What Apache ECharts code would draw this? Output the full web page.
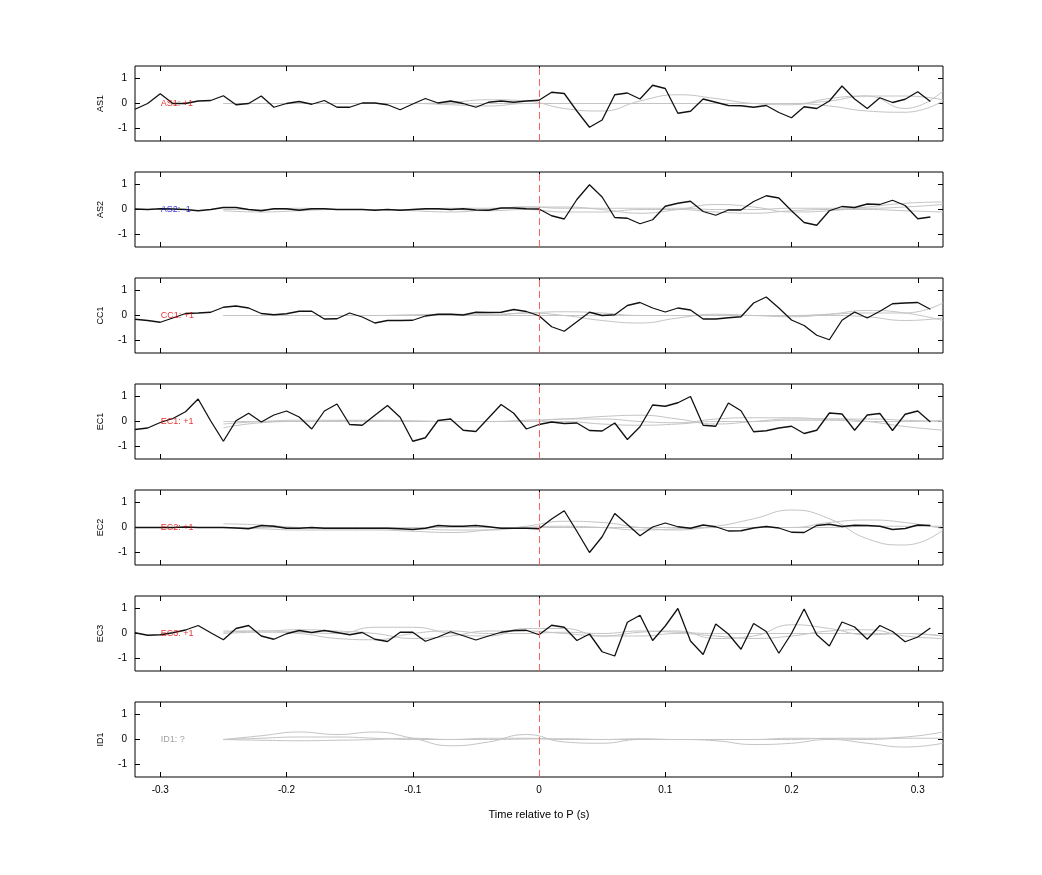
<!DOCTYPE html>
<html>
<head>
<meta charset="utf-8">
<script src="https://cdn.jsdelivr.net/npm/echarts@6/dist/echarts.min.js"></script>
<style>
  html, body { margin: 0; background: #fff; }
  #chart { width: 1042px; height: 875px; }
</style>
</head>
<body>
<div id="chart"></div>
<script>
// Station names, labels and label colours
const stations = ['AS1', 'AS2', 'CC1', 'EC1', 'EC2', 'EC3', 'ID1'];
const polarity = ['AS1: +1', 'AS2: -1', 'CC1: +1', 'EC1: +1', 'EC2: +1', 'EC3: +1', 'ID1: ?'];
const labelColors = ['#e00000', '#0000d0', '#e00000', '#e00000', '#e00000', '#e00000', '#888888'];
const xTicks = [-0.3, -0.2, -0.1, 0, 0.1, 0.2, 0.3];
const yTicks = [-1, 0, 1];

// Black traces, sampled every 0.01 s from -0.32 to 0.31
const as1 = [-0.23, 0.0, 0.39, 0.0, 0.0, 0.1, 0.12, 0.31, -0.05, 0.0, 0.3, -0.15, 0.0, 0.08, -0.03, 0.12,
  -0.15, -0.15, 0.02, 0.02, -0.05, -0.25, -0.02, 0.2, 0.02, 0.1, 0.0, -0.15, 0.05, 0.1, 0.05, 0.1,
  0.13, 0.45, 0.4, -0.3, -0.95, -0.66, 0.35, 0.42, 0.18, 0.73, 0.6, -0.39, -0.31, 0.18, 0.05, -0.08,
  -0.09, -0.15, -0.08, -0.36, -0.57, -0.13, -0.2, 0.1, 0.7, 0.18, -0.2, 0.23, 0.04, 0.17, 0.47, 0.08];
const as2 = [0.02, 0.0, 0.03, 0.02, 0.0, -0.05, 0.0, 0.08, 0.08, 0.0, -0.05, 0.03, 0.03, -0.03, 0.03, 0.03,
  0.0, 0.0, 0.0, -0.03, 0.0, -0.03, 0.0, 0.03, 0.03, 0.0, 0.03, -0.02, -0.03, 0.06, 0.06, 0.03,
  0.02, -0.25, -0.38, 0.4, 0.99, 0.5, -0.32, -0.35, -0.57, -0.41, 0.13, 0.25, 0.33, -0.08, -0.23, -0.02,
  -0.02, 0.32, 0.55, 0.46, -0.05, -0.52, -0.63, -0.05, 0.12, 0.08, 0.22, 0.2, 0.37, 0.16, -0.37, -0.3];
const cc1 = [-0.15, -0.2, -0.27, -0.1, 0.08, 0.1, 0.13, 0.33, 0.38, 0.3, 0.08, 0.03, 0.07, 0.17, 0.17, -0.14,
  -0.13, 0.1, -0.06, -0.3, -0.2, -0.2, -0.19, -0.02, 0.05, 0.05, 0.02, 0.13, 0.12, 0.13, 0.24, 0.16,
  -0.01, -0.45, -0.63, -0.25, 0.13, 0.0, 0.03, 0.4, 0.52, 0.3, 0.14, 0.3, 0.22, -0.14, -0.14, -0.09,
  -0.05, 0.5, 0.74, 0.3, -0.18, -0.4, -0.79, -0.97, -0.19, 0.14, -0.1, 0.17, 0.47, 0.5, 0.52, 0.25];
const ec1 = [-0.32, -0.26, -0.04, 0.12, 0.39, 0.9, 0.02, -0.79, 0.03, 0.33, -0.02, 0.26, 0.42, 0.18, -0.3, 0.42,
  0.7, -0.12, -0.15, 0.25, 0.64, 0.17, -0.79, -0.65, 0.04, 0.1, -0.35, -0.4, 0.14, 0.68, 0.33, -0.3,
  -0.12, -0.02, -0.08, -0.06, -0.36, -0.38, -0.06, -0.72, -0.21, 0.66, 0.61, 0.75, 1.0, -0.15, -0.19, 0.74,
  0.43, -0.41, -0.37, -0.26, -0.19, -0.48, -0.35, 0.34, 0.3, -0.35, 0.26, 0.32, -0.36, 0.29, 0.42, -0.02];
const ec2 = [0.0, 0.0, 0.0, 0.0, 0.02, 0.0, 0.0, 0.0, -0.02, -0.05, 0.08, 0.05, -0.03, -0.03, 0.0, -0.03,
  -0.03, -0.03, -0.03, -0.03, -0.03, -0.05, -0.08, -0.03, 0.08, 0.05, 0.05, 0.08, 0.03, -0.03, -0.03, -0.03,
  -0.05, 0.34, 0.67, -0.15, -1.0, -0.37, 0.56, 0.12, -0.33, 0.02, 0.18, 0.03, -0.03, 0.1, 0.03, -0.14,
  -0.13, -0.02, 0.04, -0.02, -0.19, -0.2, 0.08, 0.13, 0.04, 0.09, 0.08, 0.05, -0.08, -0.04, 0.1, 0.08];
const ec3 = [0.03, -0.07, -0.05, 0.03, 0.14, 0.32, 0.03, -0.25, 0.2, 0.32, -0.1, -0.23, -0.01, 0.12, 0.04, 0.12,
  0.04, -0.05, 0.04, -0.23, -0.32, 0.05, 0.05, -0.31, -0.14, 0.07, -0.09, -0.26, -0.1, 0.05, 0.12, 0.13,
  -0.05, 0.33, 0.25, -0.28, -0.02, -0.73, -0.9, 0.45, 0.73, -0.28, 0.3, 1.0, -0.3, -0.84, 0.38, -0.02,
  -0.63, 0.4, 0.08, -0.79, 0.0, 0.98, -0.05, -0.5, 0.46, 0.26, -0.23, 0.32, 0.08, -0.33, -0.14, 0.22];
const traces = [as1, as2, cc1, ec1, ec2, ec3, null];

// Grey model traces, sampled every 0.03 s from -0.25 to 0.32
const grayTimes = [-0.25, -0.22, -0.19, -0.16, -0.13, -0.1, -0.07, -0.04, -0.01, 0.02,
  0.05, 0.08, 0.11, 0.14, 0.17, 0.2, 0.23, 0.26, 0.29, 0.32];
const grayAS1 = [
  [0, 0, 0, 0, 0, 0, 0.05, 0.15, 0.1, -0.2, -0.3, 0.1, 0.35, 0.2, 0, -0.05, 0.2, 0.3, -0.2, 0.5],
  [0, 0, 0, 0, 0, 0, 0, 0, 0, 0, 0, 0, 0, 0, 0, 0, 0.1, 0.3, 0.3, 0.15],
  [0, 0, 0, 0, 0, 0, -0.05, -0.1, 0, 0, 0, 0, 0, 0, 0, 0, -0.1, -0.3, -0.35, 0.1]];
const grayAS2 = [
  [-0.05, -0.1, -0.05, 0, 0, -0.05, -0.1, 0, 0.1, 0.1, 0, -0.15, 0, 0.2, 0.1, -0.1, -0.05, 0.1, 0.25, 0.3],
  [0, 0, 0.05, 0, 0, 0, 0.05, 0.05, 0.1, 0.05, 0.05, 0.05, 0.05, 0, 0, 0.05, 0.05, 0.05, 0.1, 0.2],
  [0, 0, 0, 0, 0, 0, 0, -0.05, 0, -0.1, -0.1, 0, 0, -0.1, -0.15, -0.05, 0, 0, -0.05, -0.1]];
const grayCC1 = [
  [0, 0, 0, 0, 0, 0, 0, 0, 0.1, 0, -0.2, -0.3, -0.1, 0.05, 0, -0.05, 0.05, 0.2, 0.1, -0.2],
  [0, 0, 0, 0, 0, 0.03, 0.05, 0.05, 0.1, 0.15, 0.1, 0, 0, 0, 0, 0, 0.05, 0.1, 0.1, 0.5],
  [0, 0, 0, 0, 0, 0, 0, 0, 0, 0, 0, 0, 0, 0, 0, 0, 0, -0.05, -0.2, -0.1]];
const grayEC1 = [
  [-0.25, -0.05, 0, 0, 0, 0, 0, 0, 0.05, 0.1, 0.2, 0.25, 0.1, -0.1, 0, 0.1, 0.1, 0, -0.2, -0.35],
  [-0.1, 0, 0.05, 0.05, 0.03, 0, 0, 0, 0, 0.1, 0.1, 0, -0.05, 0.1, 0.15, 0.15, 0.1, 0.1, 0.05, 0],
  [0, 0, 0, 0.03, 0.05, 0.03, 0, 0, 0, 0, -0.1, -0.15, -0.1, 0, 0, 0.05, 0.05, 0, 0, 0.05]];
const grayEC2 = [
  [0.15, 0.1, 0, -0.05, -0.05, -0.05, -0.1, -0.1, 0, 0.05, 0, -0.1, -0.05, 0.05, 0.35, 0.7, 0.35, -0.45, -0.7, -0.1],
  [0, -0.05, -0.1, -0.1, -0.1, -0.15, -0.2, -0.1, 0.05, 0.25, 0.2, 0, -0.1, 0, 0, 0, 0.2, 0.3, 0.2, -0.05],
  [0, 0, 0, 0, 0, 0, 0, 0, 0, 0, 0, 0, 0, 0, 0, 0, 0, 0.05, 0.05, 0.05]];
const grayEC3 = [
  [0.05, 0.1, 0.05, 0, 0.25, 0.25, 0, -0.1, 0.2, 0.2, -0.1, 0.05, 0.1, -0.2, -0.1, 0.35, 0.2, -0.05, 0, -0.1],
  [0.1, 0.1, 0.15, 0.1, 0, -0.2, -0.1, 0.1, 0.1, 0, -0.1, -0.1, 0, -0.1, -0.2, -0.1, 0.1, 0.15, -0.1, -0.2],
  [0, 0.05, 0, -0.2, -0.25, 0, 0.1, 0, 0, 0.05, 0, 0.1, 0.05, 0, 0, 0, 0, 0, 0, -0.1]];
const grayID1 = [
  [0, 0.15, 0.3, 0.2, 0.3, 0.05, -0.25, -0.1, 0.2, -0.1, -0.15, 0, 0, -0.05, -0.2, -0.15, 0, -0.15, -0.3, -0.15],
  [0, 0.05, 0.1, 0.1, 0.05, 0, 0, 0.05, 0.05, 0, 0, 0.03, 0, 0, 0, 0, 0.05, 0.05, 0.1, 0.3],
  [0, -0.03, -0.05, -0.03, 0, 0.05, 0, 0, 0.02, 0.03, 0, 0, 0, 0, 0, 0.05, 0.03, 0, 0.05, 0.05]];
const grays = [grayAS1, grayAS2, grayCC1, grayEC1, grayEC2, grayEC3, grayID1];

const FONT = 'Liberation Sans';
const grid = [], xAxis = [], yAxis = [], series = [];

stations.forEach((name, i) => {
  const last = i === stations.length - 1;
  grid.push({ left: 135, width: 808, top: 66 + 106 * i, height: 75, show: true,
    borderColor: '#000', borderWidth: 1, backgroundColor: 'transparent' });
  const xBase = {
    type: 'value', gridIndex: i, min: -0.32, max: 0.32,
    axisLine: { show: false, onZero: false }, splitLine: { show: false },
    axisTick: { inside: true, length: 5, customValues: xTicks, lineStyle: { color: '#000' } },
  };
  xAxis.push({ ...xBase, position: 'bottom',
    axisLabel: { show: last, customValues: xTicks, color: '#000', fontFamily: FONT, fontSize: 10, margin: 8 },
    name: last ? 'Time relative to P (s)' : '', nameLocation: 'middle', nameGap: 32,
    nameTextStyle: { color: '#000', fontFamily: FONT, fontSize: 11 } });
  xAxis.push({ ...xBase, position: 'top', axisLabel: { show: false } });
  const yBase = {
    type: 'value', gridIndex: i, min: -1.5, max: 1.5,
    axisLine: { show: false, onZero: false }, splitLine: { show: false },
    axisTick: { inside: true, length: 5, customValues: yTicks, lineStyle: { color: '#000' } },
  };
  yAxis.push({ ...yBase, position: 'left',
    axisLabel: { customValues: yTicks, color: '#000', fontFamily: FONT, fontSize: 10, margin: 8 },
    name: name, nameLocation: 'middle', nameGap: 30, nameRotate: 90,
    nameTextStyle: { color: '#000', fontFamily: FONT, fontSize: 9 } });
  yAxis.push({ ...yBase, position: 'right', axisLabel: { show: false } });

  grays[i].forEach(g => {
    series.push({ type: 'line', xAxisIndex: 2 * i, yAxisIndex: 2 * i, smooth: true, symbol: 'none',
      silent: true, lineStyle: { color: '#c4c4c4', width: 1 },
      data: g.map((v, k) => [grayTimes[k], v]) });
  });

  const tr = traces[i];
  series.push({ type: 'line', xAxisIndex: 2 * i, yAxisIndex: 2 * i, symbol: 'none', silent: true,
    lineStyle: { color: tr ? '#111' : 'transparent', width: 1.3 },
    data: tr ? tr.map((v, k) => [(k - 32) / 100, v]) : [] });

  // dashed onset marker at t = 0
  series.push({ type: 'line', xAxisIndex: 2 * i, yAxisIndex: 2 * i, symbol: 'none', silent: true,
    data: [], z: 1,
    markLine: { symbol: 'none', silent: true, label: { show: false }, emphasis: { disabled: true },
      lineStyle: { color: '#ff6060', type: [7, 4], width: 1 }, data: [{ xAxis: 0 }] } });

  series.push({ type: 'scatter', xAxisIndex: 2 * i, yAxisIndex: 2 * i, symbolSize: 1, silent: true,
    itemStyle: { color: 'transparent' }, z: 5,
    data: [[-0.3, 0]],
    label: { show: true, position: 'right', distance: 0, formatter: polarity[i],
      color: labelColors[i], textBorderWidth: 0, fontFamily: FONT, fontSize: 9 } });
});

const chart = echarts.init(document.getElementById('chart'));
chart.setOption({ animation: false, backgroundColor: '#fff', grid, xAxis, yAxis, series });
</script>
</body>
</html>
